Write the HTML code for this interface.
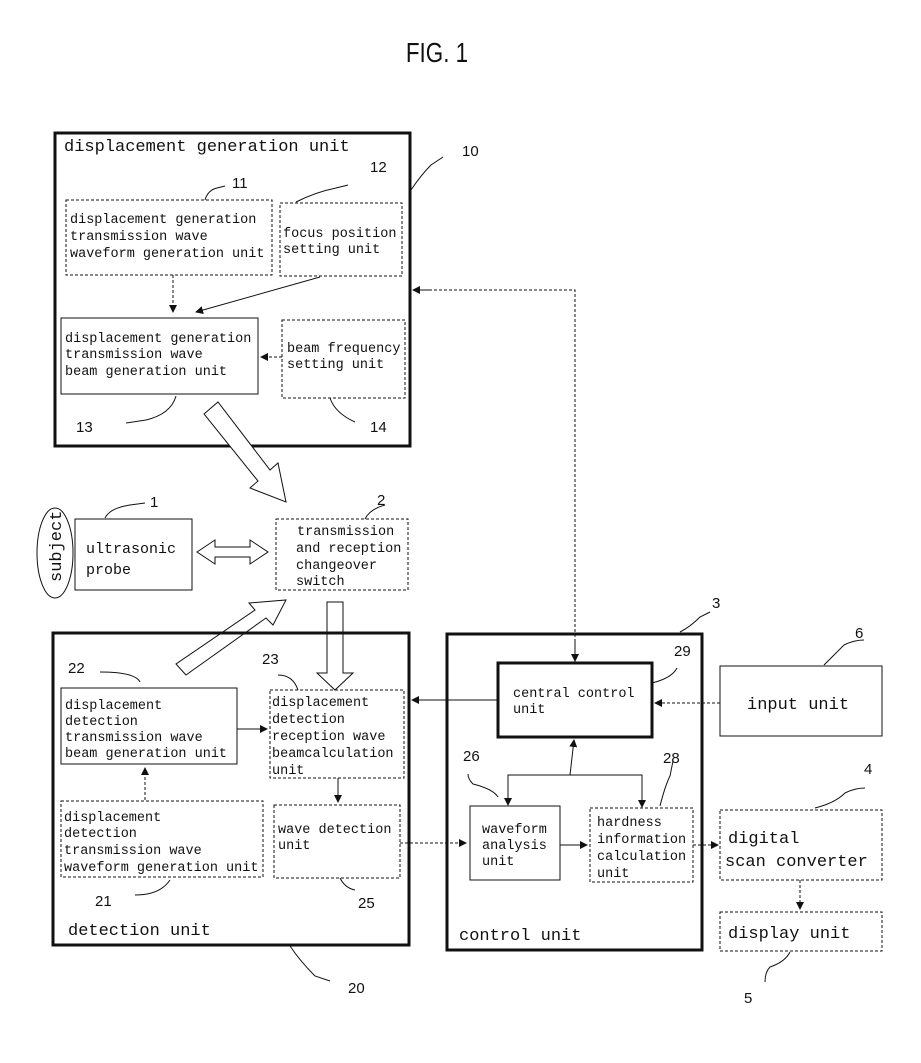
<!DOCTYPE html>
<html><head><meta charset="utf-8"><style>
html,body{margin:0;padding:0;background:#fff}
svg{display:block}
text{font-family:"Liberation Mono",monospace;fill:#111}
.s{font-size:13.5px}
.m{font-size:17px}
.n{font-size:15px;font-family:"Liberation Sans",sans-serif}
</style></head><body>
<svg width="921" height="1063" viewBox="0 0 921 1063" xmlns="http://www.w3.org/2000/svg">
<defs>
<marker id="a" markerWidth="8" markerHeight="8" refX="7" refY="4" orient="auto" markerUnits="userSpaceOnUse"><path d="M0,0 L8,4 L0,8 Z" fill="#111"/></marker>
</defs>
<text x="437" y="62" text-anchor="middle" style="font-family:'Liberation Sans Narrow','Liberation Sans',sans-serif;font-size:28px" transform="translate(437,0) scale(0.8,1) translate(-437,0)">FIG. 1</text>

<g fill="none" stroke="#111">
<rect x="55" y="133" width="355" height="313" stroke-width="3"/>
<rect x="66" y="200" width="206" height="75" stroke-dasharray="3,2"/>
<rect x="280" y="203" width="122" height="73" stroke-dasharray="3,2"/>
<rect x="61" y="318" width="197" height="76"/>
<rect x="282" y="320" width="123" height="78" stroke-dasharray="3,2"/>
<line x1="173" y1="275" x2="173" y2="312" stroke-dasharray="3,2" marker-end="url(#a)"/>
<line x1="320" y1="277" x2="196" y2="312" marker-end="url(#a)"/>
<line x1="282" y1="357" x2="261" y2="357" stroke-dasharray="3,2" marker-end="url(#a)"/>
<path d="M205,200 q3,-10 12,-12 l8,-2"/><path d="M296,202 q20,-10 40,-14 l12,-3"/><path d="M411,190 q10,-15 20,-25 l12,-8"/>
<path d="M176,396 q-5,18 -30,24 l-20,3"/><path d="M330,398 q5,15 25,24"/>
<path d="M105,518 q5,-10 25,-13 l15,-2"/><path d="M365,519 q5,-10 20,-14"/>
<path d="M140,682 q-5,-10 -40,-10"/><path d="M298,690 q-5,-15 -20,-15"/><path d="M170,880 q-10,15 -35,15"/><path d="M340,878 q5,10 15,12"/>
<path d="M290,946 q10,15 25,30 l15,5"/>
<path d="M680,632 q10,-5 20,-15 l10,-5"/><path d="M652,683 q20,-5 25,-15"/>
<path d="M498,797 q-5,-8 -25,-13 q-5,-5 -5,-10"/><path d="M660,806 q5,-20 10,-30 l3,-15"/>
<path d="M824,665 q10,-10 20,-20 q10,-5 20,-5"/><path d="M815,808 q20,-5 30,-15 q10,-5 20,-5"/><path d="M790,952 q-5,10 -20,15 q-5,5 -5,15"/>

<polyline points="575,662 575,290 413,290" stroke-dasharray="3,2"/>
<line x1="430" y1="290" x2="413" y2="290" marker-end="url(#a)"/>
<line x1="575" y1="640" x2="575" y2="661" marker-end="url(#a)"/>

<polygon points="204,414 218,402 270,470 278,463 286,502 250,488 258,481" fill="#fff"/>
<polygon points="186,675 176,664 255,610 249,603 286,600 273,625 266,618" fill="#fff"/>
<polygon points="327,602 343,602 343,673 353,673 335,690 317,673 327,673" fill="#fff"/>
<polygon points="197,552 215,540 215,547 250,547 250,540 268,552 250,564 250,557 215,557 215,564" fill="#fff"/>

<ellipse cx="55" cy="553" rx="18" ry="45"/>
<rect x="75" y="519" width="117" height="71"/>
<rect x="276" y="519" width="132" height="71" stroke-dasharray="3,2"/>

<rect x="53" y="633" width="356" height="312" stroke-width="3"/>
<rect x="61" y="688" width="176" height="76"/>
<rect x="270" y="690" width="134" height="88" stroke-dasharray="3,2"/>
<rect x="61" y="801" width="202" height="76" stroke-dasharray="3,2"/>
<rect x="274" y="805" width="126" height="73" stroke-dasharray="3,2"/>
<line x1="237" y1="729" x2="267" y2="729" marker-end="url(#a)"/>
<line x1="145" y1="800" x2="145" y2="768" stroke-dasharray="3,2" marker-end="url(#a)"/>
<line x1="338" y1="778" x2="338" y2="802" marker-end="url(#a)"/>
<line x1="400" y1="843" x2="466" y2="843" stroke-dasharray="3,2" marker-end="url(#a)"/>
<line x1="498" y1="700" x2="412" y2="700" marker-end="url(#a)"/>

<rect x="447" y="634" width="255" height="316" stroke-width="3"/>
<rect x="498" y="663" width="154" height="74" stroke-width="3"/>
<rect x="720" y="666" width="162" height="70"/>
<line x1="720" y1="703" x2="655" y2="703" stroke-dasharray="3,2" marker-end="url(#a)"/>
<rect x="470" y="806" width="90" height="74"/>
<rect x="590" y="808" width="103" height="74" stroke-dasharray="3,2"/>
<line x1="560" y1="845" x2="587" y2="845" marker-end="url(#a)"/>
<line x1="570" y1="775" x2="574" y2="740" marker-end="url(#a)"/>
<polyline points="508,803 508,775 642,775 642,805"/>
<line x1="508" y1="790" x2="508" y2="805" marker-end="url(#a)"/>
<line x1="642" y1="790" x2="642" y2="807" marker-end="url(#a)"/>
<rect x="720" y="810" width="162" height="70" stroke-dasharray="3,2"/>
<line x1="693" y1="845" x2="718" y2="845" stroke-dasharray="3,2" marker-end="url(#a)"/>
<rect x="720" y="912" width="162" height="39" stroke-dasharray="3,2"/>
<line x1="800" y1="880" x2="800" y2="909" stroke-dasharray="3,2" marker-end="url(#a)"/>
</g>

<text class="m" x="64" y="151">displacement generation unit</text>
<text class="s" x="70" y="223">displacement generation</text>
<text class="s" x="70" y="240">transmission wave</text>
<text class="s" x="70" y="257">waveform generation unit</text>
<text class="s" x="283" y="237">focus position</text>
<text class="s" x="283" y="253">setting unit</text>
<text class="s" x="65" y="342">displacement generation</text>
<text class="s" x="65" y="358">transmission wave</text>
<text class="s" x="65" y="375">beam generation unit</text>
<text class="s" x="287" y="352">beam frequency</text>
<text class="s" x="287" y="368">setting unit</text>
<text class="n" x="232" y="188">11</text><text class="n" x="370" y="172">12</text><text class="n" x="462" y="156">10</text>
<text class="n" x="76" y="432">13</text><text class="n" x="370" y="432">14</text>
<text class="n" x="150" y="507">1</text><text class="n" x="377" y="505">2</text>
<text class="m" x="0" y="0" transform="translate(61,582) rotate(-90)">subject</text>
<text x="86" y="553" style="font-size:15px">ultrasonic</text>
<text x="86" y="574" style="font-size:15px">probe</text>
<text class="s" x="297" y="535">transmission</text>
<text class="s" x="296" y="552">and reception</text>
<text class="s" x="296" y="569">changeover</text>
<text class="s" x="296" y="585">switch</text>

<text class="s" x="65" y="709">displacement</text>
<text class="s" x="65" y="725">detection</text>
<text class="s" x="65" y="741">transmission wave</text>
<text class="s" x="65" y="757">beam generation unit</text>
<text class="s" x="272" y="706">displacement</text>
<text class="s" x="272" y="723">detection</text>
<text class="s" x="272" y="740">reception wave</text>
<text class="s" x="272" y="757">beamcalculation</text>
<text class="s" x="272" y="774">unit</text>
<text class="s" x="64" y="821">displacement</text>
<text class="s" x="64" y="837">detection</text>
<text class="s" x="64" y="854">transmission wave</text>
<text class="s" x="64" y="871">waveform generation unit</text>
<text class="s" x="278" y="833">wave detection</text>
<text class="s" x="278" y="849">unit</text>
<text class="n" x="68" y="673">22</text><text class="n" x="262" y="664">23</text>
<text class="n" x="95" y="906">21</text><text class="n" x="358" y="908">25</text><text class="n" x="348" y="993">20</text>
<text class="m" x="68" y="935">detection unit</text>

<text class="s" x="513" y="697">central control</text>
<text class="s" x="513" y="713">unit</text>
<text class="m" x="747" y="709">input unit</text>
<text class="s" x="482" y="833">waveform</text>
<text class="s" x="482" y="849">analysis</text>
<text class="s" x="482" y="865">unit</text>
<text class="s" x="597" y="826">hardness</text>
<text class="s" x="597" y="843">information</text>
<text class="s" x="597" y="860">calculation</text>
<text class="s" x="597" y="877">unit</text>
<text class="m" x="728" y="843">digital</text>
<text class="m" x="725" y="866">scan converter</text>
<text class="m" x="728" y="938">display unit</text>
<text class="m" x="459" y="940">control unit</text>
<text class="n" x="712" y="608">3</text><text class="n" x="855" y="638">6</text><text class="n" x="674" y="656">29</text>
<text class="n" x="463" y="761">26</text><text class="n" x="663" y="763">28</text>
<text class="n" x="864" y="774">4</text><text class="n" x="744" y="1003">5</text>
</svg>
</body></html>
